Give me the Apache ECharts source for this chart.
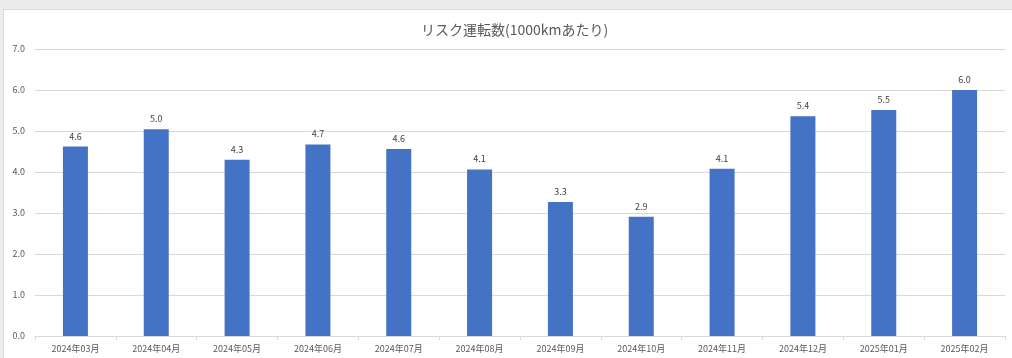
<!DOCTYPE html>
<html>
<head>
<meta charset="utf-8">
<script src="https://cdn.jsdelivr.net/npm/echarts@6/dist/echarts.min.js"></script>
<style>
  html, body { margin: 0; padding: 0; background: #ececec; overflow: hidden; }
  #frame {
    position: absolute; left: 3px; top: 9px;
    width: 1012px; height: 350px;
    background: #fff; border: 1px solid #d9d9d9;
  }
  #chart { width: 1009px; height: 348px; }
</style>
</head>
<body>
<div id="frame"><div id="chart"></div></div>
<script>
// categories (months)
var months = ["2024年03月", "2024年04月", "2024年05月", "2024年06月", "2024年07月", "2024年08月",
  "2024年09月", "2024年10月", "2024年11月", "2024年12月", "2025年01月", "2025年02月"];
// risk driving count per 1000km
var riskValues = [4.62, 5.04, 4.30, 4.67, 4.56, 4.06, 3.27, 2.91, 4.08, 5.36, 5.51, 6.0];
// y axis ticks
var yMin = 0;
var yMax = 7;
var yStep = 1;

var myChart = echarts.init(document.getElementById("chart"), null, { renderer: "canvas" });
var fontFamily = "'Noto Sans CJK JP', 'Noto Sans', sans-serif";

var option = {
  animation: false,
  textStyle: { fontFamily: fontFamily },
  title: {
    text: "リスク運転数(1000kmあたり)",
    left: 412,
    top: 8,
    textStyle: { fontSize: 14, fontWeight: "normal", color: "#595959", fontFamily: fontFamily },
  },
  grid: { left: 31, right: 8, top: 39, bottom: 22 },
  xAxis: {
    type: "category",
    data: months,
    axisLine: { lineStyle: { color: "#d9d9d9" } },
    axisTick: { show: true, length: 4, lineStyle: { color: "#d9d9d9" } },
    axisLabel: { color: "#595959", fontSize: 9, margin: 8, fontFamily: fontFamily },
  },
  yAxis: {
    type: "value",
    min: yMin,
    max: yMax,
    interval: yStep,
    axisLine: { show: false },
    axisTick: { show: false },
    splitLine: { lineStyle: { color: "#d9d9d9" } },
    axisLabel: {
      color: "#595959",
      fontSize: 9,
      margin: 10,
      fontFamily: fontFamily,
      formatter: function (v) { return v.toFixed(1); },
    },
  },
  series: [
    {
      name: "リスク運転数",
      type: "bar",
      barWidth: 25,
      data: riskValues,
      itemStyle: { color: "#4472C4" },
      label: {
        show: true,
        position: "top",
        distance: 6,
        color: "#404040",
        fontSize: 9,
        fontFamily: fontFamily,
        formatter: function (p) { return p.value.toFixed(1); },
      },
    },
  ],
};

myChart.setOption(option);
window.addEventListener("resize", myChart.resize);
</script>
</body>
</html>
